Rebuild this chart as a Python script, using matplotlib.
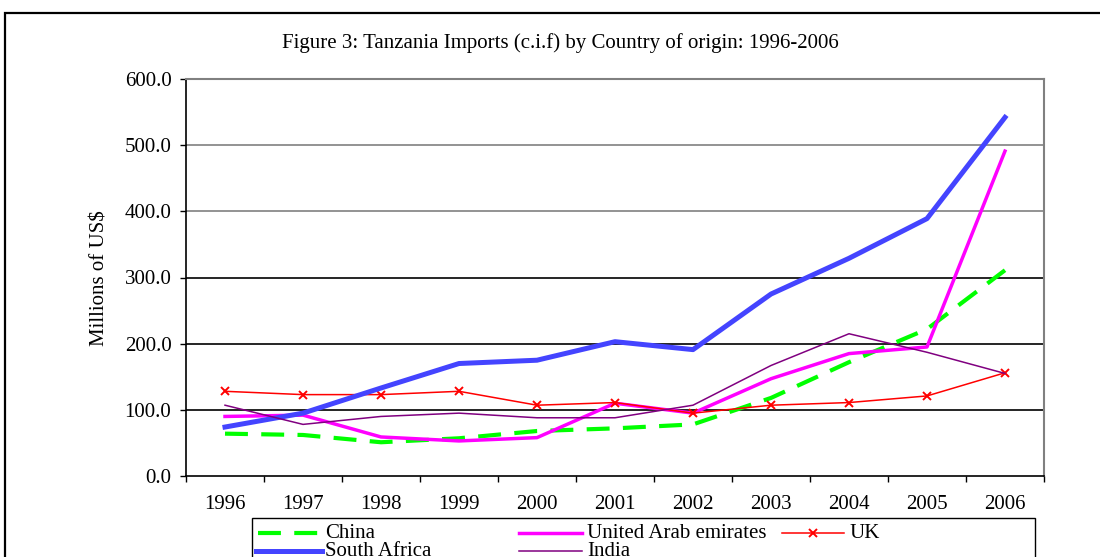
import matplotlib
matplotlib.use("Agg")
import matplotlib.pyplot as plt
from matplotlib.lines import Line2D
from matplotlib.patches import Rectangle

years = ["1996", "1997", "1998", "1999", "2000", "2001", "2002", "2003", "2004", "2005", "2006"]
china = [64, 62, 51, 57, 68, 72, 78, 118, 172, 222, 311]
uae = [90, 92, 59, 53, 58, 110, 95, 147, 185, 195, 491]
uk = [128, 123, 123, 128, 107, 111, 95, 107, 111, 121, 156]
south_africa = [74, 95, 133, 170, 175, 203, 191, 275, 329, 389, 542]
india = [107, 78, 90, 95, 88, 88, 107, 167, 215, 187, 155]
y_ticks = [0, 100, 200, 300, 400, 500, 600]

FONT = "Liberation Serif"
FS = 15

W, H = 1100, 557
fig = plt.figure(figsize=(W / 100, H / 100), dpi=100)
ax = fig.add_axes([186 / W, 1 - 476 / H, (1044 - 186) / W, (476 - 79) / H])

x = list(range(len(years)))
styles = {
    "China": dict(color="#00FF00", lw=3.0, linestyle=(0, (5.5, 3.2)), zorder=3),
    "United Arab emirates": dict(color="#FF00FF", lw=2.5, zorder=4),
    "UK": dict(color="#FF0000", lw=1.1, marker="x", markersize=6, markeredgewidth=1.4, zorder=5),
    "South Africa": dict(color="#4444FF", lw=3.6, zorder=6),
    "India": dict(color="#800080", lw=1.1, zorder=7),
}
series = {"China": china, "United Arab emirates": uae, "UK": uk,
          "South Africa": south_africa, "India": india}
for name, vals in series.items():
    ax.plot(x, vals, **styles[name])

ax.set_ylim(0, 600)
ax.set_xlim(-0.5, len(years) - 0.5)
ax.set_yticks(y_ticks)
ax.set_yticklabels([f"{v:.1f}" for v in y_ticks], fontfamily=FONT, fontsize=FS)
ax.set_xticks([i - 0.5 for i in range(len(years) + 1)])
ax.set_xticklabels([])
ax.set_xticks(x, minor=True)
ax.set_xticklabels(years, minor=True, fontfamily=FONT, fontsize=FS)
ax.tick_params(axis="x", which="minor", length=0, pad=14)
ax.tick_params(axis="x", which="major", length=4, width=1, direction="out")
ax.tick_params(axis="y", length=4.5, width=1, direction="out", pad=6)

for v in y_ticks[1:]:
    col = "#000000" if v <= 300 else "#808080"
    ax.axhline(v, color=col, lw=1.2, zorder=1)
for side in ["top", "right"]:
    ax.spines[side].set_color("#808080")
    ax.spines[side].set_linewidth(1.5)
for side in ["left", "bottom"]:
    ax.spines[side].set_color("#000000")
    ax.spines[side].set_linewidth(1.2)

fig.text(560 / W, 1 - 43 / H, "Figure 3: Tanzania Imports (c.i.f) by Country of origin: 1996-2006",
         ha="center", va="center", fontfamily=FONT, fontsize=FS)
fig.text(100 / W, 1 - 278 / H, "Millions of US$", rotation=90, ha="center", va="center",
         fontfamily=FONT, fontsize=FS)

# outer frame
fig.patches.append(Rectangle((5 / W, -0.1), 1.2, (1 - 13 / H) + 0.1, transform=fig.transFigure,
                             fill=False, edgecolor="black", lw=1.6))
# legend box
fig.patches.append(Rectangle((252 / W, -0.1), (1035 - 252) / W, (1 - 518 / H) + 0.1,
                             transform=fig.transFigure, fill=False, edgecolor="black", lw=1.0))

legend_items = [
    ("China", 258, 318, 325, 533),
    ("United Arab emirates", 519, 582, 587, 533),
    ("UK", 782, 844, 849, 533),
    ("South Africa", 256, 322, 325, 551),
    ("India", 519, 582, 587, 551),
]
for name, x0, x1, tx, ly in legend_items:
    st = dict(styles[name])
    st.pop("zorder", None)
    yy = 1 - ly / H
    if "marker" in st:
        ln = Line2D([x0 / W, (x0 + x1) / 2 / W, x1 / W], [yy, yy, yy], transform=fig.transFigure,
                    markevery=[1], **st)
    else:
        ln = Line2D([x0 / W, x1 / W], [yy, yy], transform=fig.transFigure, **st)
    fig.lines.append(ln)
    fig.text(tx / W, yy, name, ha="left", va="center", fontfamily=FONT, fontsize=FS)

fig.savefig("out.png", dpi=100)
